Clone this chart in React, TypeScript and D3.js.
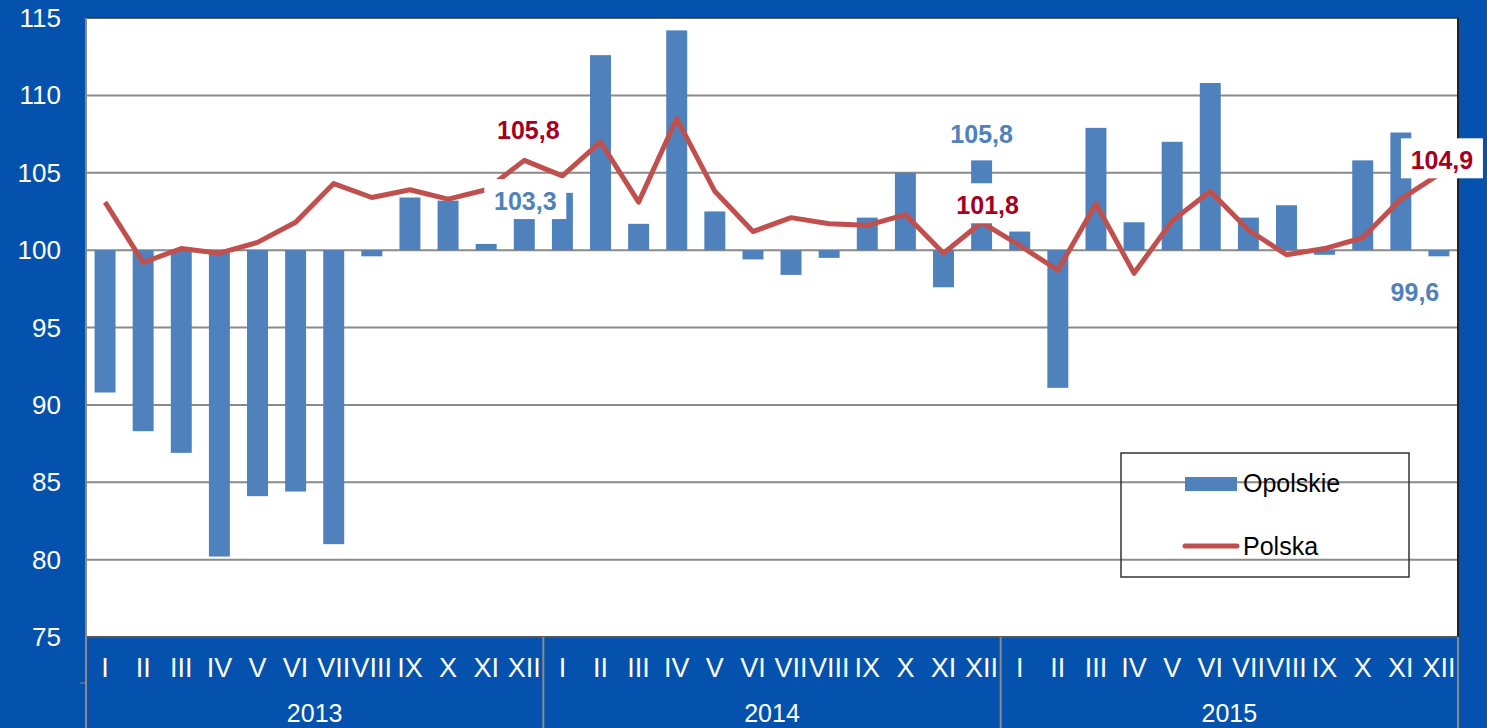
import { useEffect, useRef } from "react";
import * as d3 from "d3";

const months = ["I", "II", "III", "IV", "V", "VI", "VII", "VIII", "IX", "X", "XI", "XII"];
const years = ["2013", "2014", "2015"];
const yTicks = [75, 80, 85, 90, 95, 100, 105, 110, 115];

// Opolskie, monthly index (same month previous year = 100)
const opolskie = [
  90.8, 88.3, 86.9, 80.2, 84.1, 84.4, 81.0, 99.6, 103.4, 103.2, 100.4, 103.3,
  103.7, 112.6, 101.7, 114.2, 102.5, 99.4, 98.4, 99.5, 102.1, 105.0, 97.6, 105.8,
  101.2, 91.1, 107.9, 101.8, 107.0, 110.8, 102.1, 102.9, 99.7, 105.8, 107.6, 99.6,
];

// Polska
const polska = [
  103.1, 99.2, 100.1, 99.8, 100.5, 101.8, 104.3, 103.4, 103.9, 103.3, 103.9, 105.8,
  104.8, 107.0, 103.1, 108.5, 103.8, 101.2, 102.1, 101.7, 101.6, 102.3, 99.8, 101.8,
  100.3, 98.7, 103.0, 98.5, 101.9, 103.8, 101.3, 99.7, 100.1, 100.8, 103.3, 104.9,
];

const legendNames = ["Opolskie", "Polska"];

const BG = "#0452AD";
const BAR = "#4F81BD";
const LINE = "#C0504D";
const LABEL_RED = "#A50021";

function App() {
  const ref = useRef<SVGSVGElement>(null);

  useEffect(() => {
    const width = 1487,
      height = 728;
    const left = 86,
      right = 1458,
      top = 18,
      bottom = 637;

    const svg = d3.select(ref.current);
    svg.selectAll("*").remove();
    svg.attr("width", width).attr("height", height);

    svg.append("rect").attr("width", width).attr("height", height).attr("fill", BG);

    const cats = d3.range(opolskie.length);
    const x = d3
      .scaleBand<number>()
      .domain(cats)
      .range([left, right])
      .paddingInner(0.45)
      .paddingOuter(0.225);
    const step = x.step();
    const cx = (i: number) => (x(i) as number) + x.bandwidth() / 2;
    const y = d3.scaleLinear().domain([75, 115]).range([bottom, top]);

    // plot area
    svg
      .append("rect")
      .attr("x", left)
      .attr("y", top)
      .attr("width", right - left)
      .attr("height", bottom - top)
      .attr("fill", "#fff");

    // gridlines
    svg
      .append("g")
      .selectAll("line")
      .data(yTicks.filter((d) => d > 75 && d < 115))
      .join("line")
      .attr("x1", left)
      .attr("x2", right)
      .attr("y1", (d) => y(d))
      .attr("y2", (d) => y(d))
      .attr("stroke", "#8a8a8a")
      .attr("stroke-width", 2);

    // y tick labels
    svg
      .append("g")
      .selectAll("text")
      .data(yTicks)
      .join("text")
      .attr("x", 61)
      .attr("y", (d) => y(d) + 9)
      .attr("text-anchor", "end")
      .attr("fill", "#fff")
      .style("font-family", "'Liberation Sans', Arial, sans-serif")
      .style("font-size", "26px")
      .text((d) => d);

    // bars from the 100 base
    svg
      .append("g")
      .selectAll("rect")
      .data(opolskie)
      .join("rect")
      .attr("x", (_, i) => x(i) as number)
      .attr("width", x.bandwidth())
      .attr("y", (d) => Math.min(y(d), y(100)))
      .attr("height", (d) => Math.abs(y(d) - y(100)))
      .attr("fill", BAR);

    // line
    const line = d3
      .line<number>()
      .x((_, i) => cx(i))
      .y((d) => y(d));
    svg
      .append("path")
      .datum(polska)
      .attr("fill", "none")
      .attr("stroke", LINE)
      .attr("stroke-width", 5)
      .attr("stroke-linejoin", "round")
      .attr("d", line);

    // borders
    svg
      .append("line")
      .attr("x1", left).attr("x2", right).attr("y1", top).attr("y2", top)
      .attr("stroke", "#333").attr("stroke-width", 1.5);
    svg
      .append("line")
      .attr("x1", right).attr("x2", right).attr("y1", top).attr("y2", bottom)
      .attr("stroke", "#222").attr("stroke-width", 2);
    svg
      .append("line")
      .attr("x1", left).attr("x2", right).attr("y1", bottom).attr("y2", bottom)
      .attr("stroke", "#555").attr("stroke-width", 2);

    // category axis band
    const axis = svg.append("g");
    const sep = [0, 12, 24].map((i) => left + i * step).concat([right]);
    axis
      .selectAll("line.sep")
      .data(sep)
      .join("line")
      .attr("class", "sep")
      .attr("x1", (d) => d)
      .attr("x2", (d) => d)
      .attr("y1", (d, i) => (i === 0 ? top : bottom))
      .attr("y2", height)
      .attr("stroke", "#8a8a8a")
      .attr("stroke-width", 2);
    axis
      .append("line")
      .attr("x1", left - 6).attr("x2", left).attr("y1", 683).attr("y2", 683)
      .attr("stroke", "#8a8a8a").attr("stroke-width", 1);

    axis
      .selectAll("text.month")
      .data(cats)
      .join("text")
      .attr("class", "month")
      .attr("x", (i) => cx(i))
      .attr("y", 677)
      .attr("text-anchor", "middle")
      .attr("fill", "#fff")
      .style("font-family", "'Liberation Sans Narrow', 'Arial Narrow', 'Liberation Sans', sans-serif")
      .style("font-size", "27px")
      .text((i) => months[i % 12]);

    axis
      .selectAll("text.year")
      .data(years)
      .join("text")
      .attr("class", "year")
      .attr("x", (_, k) => left + (k * 12 + 6) * step)
      .attr("y", 722)
      .attr("text-anchor", "middle")
      .attr("fill", "#fff")
      .style("font-family", "'Liberation Sans', Arial, sans-serif")
      .style("font-size", "25px")
      .text((d) => d);

    // data labels (white boxes where they sit over marks)
    const labels = [
      { i: 11, v: polska[11], color: LABEL_RED, dx: 4, base: -21, box: false },
      { i: 11, v: opolskie[11], color: BAR, dx: 1, base: 11, box: true },
      { i: 23, v: opolskie[23], color: BAR, dx: 0, base: -17, box: false },
      { i: 23, v: polska[23], color: LABEL_RED, dx: 6, base: -8, box: true },
      { i: 35, v: polska[35], color: LABEL_RED, dx: 3, base: -5, box: true },
      { i: 35, v: opolskie[35], color: BAR, dx: -24, base: 45, box: false },
    ];
    const fmt = (v: number) => v.toFixed(1).replace(".", ",");
    const lg = svg.append("g");
    labels.forEach((l) => {
      const tx = cx(l.i) + l.dx;
      const ty = y(l.v) + l.base;
      if (l.box) {
        lg.append("rect")
          .attr("x", tx - 41)
          .attr("y", ty - 31)
          .attr("width", 82)
          .attr("height", 40)
          .attr("fill", "#fff");
      }
      lg.append("text")
        .attr("x", tx)
        .attr("y", ty)
        .attr("text-anchor", "middle")
        .attr("fill", l.color)
        .style("font-family", "'Liberation Sans', Arial, sans-serif")
        .style("font-weight", "bold")
        .style("font-size", "25px")
        .text(fmt(l.v));
    });

    // legend
    const leg = svg.append("g");
    leg
      .append("rect")
      .attr("x", 1121)
      .attr("y", 453)
      .attr("width", 288)
      .attr("height", 124)
      .attr("fill", "none")
      .attr("stroke", "#333")
      .attr("stroke-width", 1.5);
    leg.append("rect").attr("x", 1185).attr("y", 477).attr("width", 52).attr("height", 14).attr("fill", BAR);
    leg
      .append("line")
      .attr("x1", 1185).attr("x2", 1237).attr("y1", 546).attr("y2", 546)
      .attr("stroke", LINE).attr("stroke-width", 5).attr("stroke-linecap", "round");
    leg
      .selectAll("text")
      .data(legendNames)
      .join("text")
      .attr("x", 1243)
      .attr("y", (_, k) => (k === 0 ? 492 : 555))
      .attr("fill", "#000")
      .style("font-family", "'Liberation Sans', Arial, sans-serif")
      .style("font-size", "25px")
      .text((d) => d);
  }, []);

  return <svg ref={ref} style={{ position: "absolute", left: 0, top: 0, display: "block" }}></svg>;
}

export default App;
